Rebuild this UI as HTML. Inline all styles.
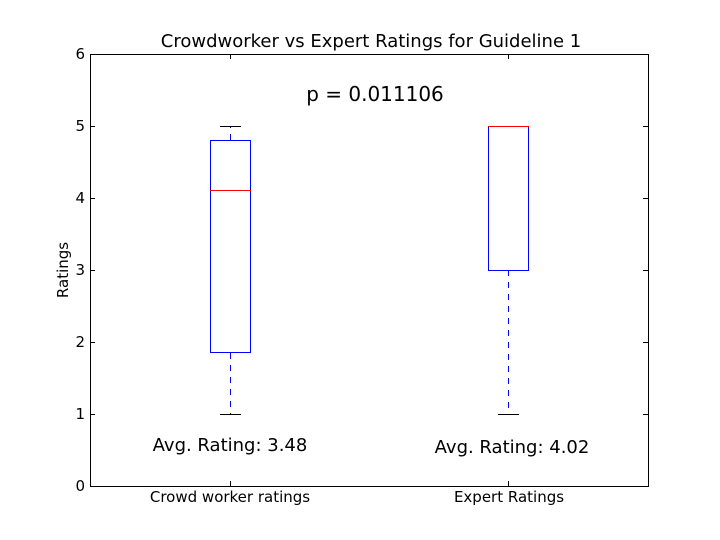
<!DOCTYPE html>
<html><head><meta charset="utf-8"><style>body{margin:0;background:#fff}svg{display:block}</style></head><body>
<svg width="720" height="540" xmlns="http://www.w3.org/2000/svg" font-family="DejaVu Sans, Liberation Sans, sans-serif">
<rect width="720" height="540" fill="#fff"/>
<g stroke="#000" stroke-width="1" fill="none">
<rect x="90.5" y="54.5" width="558" height="432"/>
<path d="M90 486.5h5M90 414.5h5M90 342.5h5M90 270.5h5M90 198.5h5M90 126.5h5M90 54.5h5"/>
<path d="M648 486.5h-5M648 414.5h-5M648 342.5h-5M648 270.5h-5M648 198.5h-5M648 126.5h-5M648 54.5h-5"/>
<path d="M230.5 486v-5M508.5 486v-5M230.5 54v5M508.5 54v5"/>
</g>
<g font-size="15" fill="#000" text-anchor="end">
<text x="85" y="491">0</text><text x="85" y="419">1</text><text x="85" y="347">2</text><text x="85" y="275">3</text><text x="85" y="203">4</text><text x="85" y="131">5</text><text x="85" y="59">6</text>
</g>
<g font-size="15" text-anchor="middle">
<text x="230" y="502">Crowd worker ratings</text>
<text x="509" y="502">Expert Ratings</text>
<text x="371" y="47" font-size="18">Crowdworker vs Expert Ratings for Guideline 1</text>
<text x="375" y="101" font-size="20">p = 0.011106</text>
<text x="230" y="451" font-size="18">Avg. Rating: 3.48</text>
<text x="512" y="453" font-size="18">Avg. Rating: 4.02</text>
<text transform="translate(68,270) rotate(-90)">Ratings</text>
</g>
<g fill="none">
<rect x="210.5" y="140.5" width="40" height="212" stroke="#00f"/>
<path d="M230.5 140v-14M230.5 353v61" stroke="#00f" stroke-dasharray="6,6"/>
<path d="M220 126.5h21M220 414.5h21" stroke="#000"/>
<path d="M210 190.5h41" stroke="#f00"/>
<rect x="488.5" y="126.5" width="40" height="144" stroke="#00f"/>
<path d="M508.5 270v144" stroke="#00f" stroke-dasharray="6,6"/>
<path d="M498 414.5h21M498 126.5h21" stroke="#000"/>
<path d="M488 126.5h41" stroke="#f00"/>
</g>
</svg>
</body></html>
